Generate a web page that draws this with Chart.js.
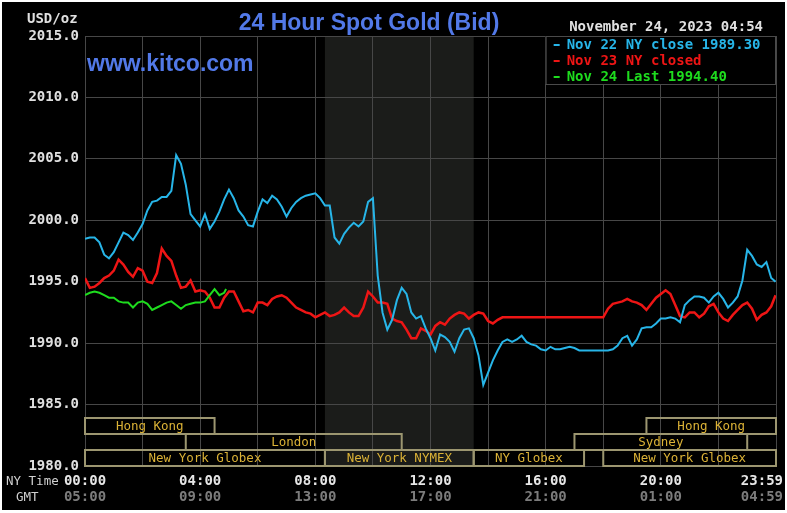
<!DOCTYPE html>
<html>
<head>
<meta charset="utf-8">
<script src="https://cdn.jsdelivr.net/npm/chart.js@4.4.0/dist/chart.umd.min.js"></script>
<style>
  html, body { margin: 0; padding: 0; background: #fff; }
  #wrap { width: 787px; height: 513px; }
</style>
</head>
<body>
<div id="wrap"><canvas id="gold" width="787" height="513"></canvas></div>
<script>
// minutes after NY midnight, 10 minute samples
const times = Array.from({ length: 145 }, (_, i) => Math.min(i * 10, 1439));

// Nov 22 (cyan)
const nov22 = [
  1998.5, 1998.6, 1998.6, 1998.2, 1997.2, 1996.9, 1997.4, 1998.2, 1999.0, 1998.8,
  1998.4, 1999.0, 1999.7, 2000.8, 2001.5, 2001.6, 2001.9, 2001.9, 2002.4, 2005.3,
  2004.6, 2002.9, 2000.5, 2000.0, 1999.5, 2000.5, 1999.3, 1999.9, 2000.7, 2001.7,
  2002.5, 2001.8, 2000.8, 2000.3, 1999.6, 1999.5, 2000.7, 2001.7, 2001.4, 2002.0,
  2001.7, 2001.1, 2000.3, 2001.0, 2001.5, 2001.8, 2002.0, 2002.1, 2002.2, 2001.8,
  2001.2, 2001.2, 1998.6, 1998.1, 1998.9, 1999.4, 1999.8, 1999.5, 1999.9, 2001.5,
  2001.8, 1995.5, 1992.5, 1991.1, 1991.9, 1993.5, 1994.5, 1994.0, 1992.5, 1992.0,
  1992.2, 1991.2, 1990.4, 1989.4, 1990.7, 1990.5, 1990.1, 1989.3, 1990.4, 1991.1,
  1991.2, 1990.4, 1989.0, 1986.6, 1987.6, 1988.6, 1989.4, 1990.1, 1990.3, 1990.1,
  1990.3, 1990.6, 1990.1, 1989.9, 1989.8, 1989.5, 1989.4, 1989.7, 1989.5, 1989.5,
  1989.6, 1989.7, 1989.6, 1989.4, 1989.4, 1989.4, 1989.4, 1989.4, 1989.4, 1989.4,
  1989.5, 1989.8, 1990.4, 1990.6, 1989.8, 1990.3, 1991.2, 1991.3, 1991.3, 1991.6,
  1992.0, 1992.0, 1992.1, 1992.0, 1991.7, 1993.1, 1993.5, 1993.8, 1993.8, 1993.7,
  1993.3, 1993.8, 1994.1, 1993.6, 1992.9, 1993.3, 1993.8, 1995.1, 1997.6, 1997.1,
  1996.4, 1996.2, 1996.6, 1995.3, 1995.0
];

// Nov 23 (red)
const nov23 = [
  1995.3, 1994.5, 1994.6, 1994.9, 1995.3, 1995.5, 1995.9, 1996.8, 1996.4, 1995.8,
  1995.4, 1996.1, 1995.9, 1995.0, 1994.9, 1995.7, 1997.7, 1997.1, 1996.7, 1995.5,
  1994.5, 1994.6, 1995.1, 1994.2, 1994.3, 1994.2, 1993.7, 1992.9, 1992.9, 1993.7,
  1994.2, 1994.2, 1993.4, 1992.6, 1992.7, 1992.5, 1993.3, 1993.3, 1993.1, 1993.6,
  1993.8, 1993.9, 1993.7, 1993.3, 1992.9, 1992.7, 1992.5, 1992.4, 1992.1, 1992.3,
  1992.5, 1992.2, 1992.3, 1992.5, 1992.9, 1992.5, 1992.2, 1992.2, 1992.9, 1994.2,
  1993.8, 1993.3, 1993.3, 1993.2, 1992.0, 1991.8, 1991.7, 1991.1, 1990.4, 1990.4,
  1991.2, 1991.0, 1990.7, 1991.4, 1991.7, 1991.5, 1992.0, 1992.3, 1992.5, 1992.4,
  1992.0, 1992.3, 1992.5, 1992.4, 1991.8, 1991.6, 1991.9, 1992.1, 1992.1, 1992.1,
  1992.1, 1992.1, 1992.1, 1992.1, 1992.1, 1992.1, 1992.1, 1992.1, 1992.1, 1992.1,
  1992.1, 1992.1, 1992.1, 1992.1, 1992.1, 1992.1, 1992.1, 1992.1, 1992.1, 1992.8,
  1993.2, 1993.3, 1993.4, 1993.6, 1993.4, 1993.3, 1993.1, 1992.7, 1993.2, 1993.7,
  1994.0, 1994.3, 1994.0, 1993.1, 1992.2, 1992.1, 1992.5, 1992.5, 1992.1, 1992.4,
  1993.0, 1993.2, 1992.5, 1992.0, 1991.8, 1992.3, 1992.7, 1993.1, 1993.3, 1992.8,
  1991.9, 1992.3, 1992.5, 1993.0, 1993.9
];

// Nov 24 (green), up to 04:54
const nov24Times = [0, 10, 20, 30, 40, 50, 60, 70, 80, 90, 100, 110, 120, 130, 140, 150,
  160, 170, 180, 190, 200, 210, 220, 230, 240, 250, 260, 270, 280, 290, 294];
const nov24 = [
  1993.9, 1994.1, 1994.2, 1994.1, 1993.9, 1993.7, 1993.7, 1993.4, 1993.3, 1993.3,
  1992.9, 1993.3, 1993.4, 1993.2, 1992.7, 1992.9, 1993.1, 1993.3, 1993.4, 1993.1,
  1992.8, 1993.1, 1993.2, 1993.3, 1993.3, 1993.4, 1993.9, 1994.4, 1993.9, 1994.1, 1994.4
];

const legendLabels = ["Nov 22 NY close 1989.30", "Nov 23 NY closed", "Nov 24 Last 1994.40"];
const seriesColors = ["#27b5e8", "#ee1515", "#1edc1e"];

const xTickTimes = [0, 240, 480, 720, 960, 1200, 1439];
const nyLabels = ["00:00", "04:00", "08:00", "12:00", "16:00", "20:00", "23:59"];
const gmtLabels = ["05:00", "09:00", "13:00", "17:00", "21:00", "01:00", "04:59"];

// trading sessions (minutes), row 0 = top row
const sessionNames = ["Hong Kong", "London", "New York Globex", "New York NYMEX", "NY Globex", "Sydney", "New York Globex", "Hong Kong"];
const sessionStart = [0, 210, 0, 500, 810, 1020, 1080, 1170];
const sessionEnd = [270, 660, 500, 810, 1040, 1380, 1440, 1440];
const sessionRow = [0, 1, 2, 2, 2, 1, 2, 0];

const nymexOpen = 500, nymexClose = 810;

const mono = "'DejaVu Sans Mono', monospace";

const toPoints = (xs, ys) => xs.map((t, i) => ({ x: t, y: ys[i] }));

const kitcoDecor = {
  id: "kitcoDecor",
  beforeDraw(chart) {
    const { ctx, chartArea, scales } = chart;
    ctx.save();
    ctx.fillStyle = "#ffffff";
    ctx.fillRect(0, 0, chart.width, chart.height);
    ctx.fillStyle = "#000000";
    ctx.fillRect(2, 2, chart.width - 4, chart.height - 5);
    // NYMEX hours shading
    const x0 = scales.x.getPixelForValue(nymexOpen);
    const x1 = scales.x.getPixelForValue(nymexClose);
    ctx.fillStyle = "#1b1c1a";
    ctx.fillRect(x0, chartArea.top, x1 - x0, chartArea.bottom - chartArea.top);
    ctx.restore();
  },
  afterDraw(chart) {
    const { ctx, chartArea, scales } = chart;
    const xs = scales.x;
    ctx.save();

    // session bars
    const rowH = 16;
    ctx.lineWidth = 2;
    ctx.font = "12.5px " + mono;
    ctx.textAlign = "center";
    ctx.textBaseline = "middle";
    sessionNames.forEach((name, i) => {
      const a = xs.getPixelForValue(sessionStart[i]);
      const b = xs.getPixelForValue(sessionEnd[i]);
      const top = chartArea.bottom - (3 - sessionRow[i]) * rowH;
      ctx.strokeStyle = "#9c9670";
      ctx.strokeRect(a, top, b - a, rowH);
      ctx.fillStyle = "#dbb236";
      ctx.fillText(name, (a + b) / 2, top + rowH / 2 + 1);
    });

    // legend box
    const lx = xs.getPixelForValue(960);
    ctx.fillStyle = "#000";
    ctx.fillRect(lx, chartArea.top, chartArea.right - lx, 48);
    ctx.strokeStyle = "#4a4a4a";
    ctx.lineWidth = 1;
    ctx.strokeRect(lx + 0.5, chartArea.top + 0.5, chartArea.right - lx - 1, 48);
    ctx.font = "bold 14px " + mono;
    ctx.textAlign = "left";
    legendLabels.forEach((txt, i) => {
      const y = chartArea.top + 9 + i * 16;
      ctx.fillStyle = seriesColors[i];
      ctx.fillRect(lx + 8, y - 1, 6, 2);
      ctx.fillText(txt, lx + 21, y);
    });

    // header texts
    ctx.fillStyle = "#e0e0e0";
    ctx.font = "bold 14px " + mono;
    ctx.textAlign = "left";
    ctx.fillText("USD/oz", 27, 19);
    ctx.textAlign = "right";
    ctx.fillText("November 24, 2023 04:54", 763, 27);

    ctx.fillStyle = "#5279e8";
    ctx.font = "bold 23px 'Liberation Sans', Arial, sans-serif";
    ctx.textAlign = "center";
    ctx.textBaseline = "alphabetic";
    ctx.fillText("24 Hour Spot Gold (Bid)", 369, 30);
    ctx.textAlign = "left";
    ctx.fillText("www.kitco.com", 87, 71);

    // time axis, two rows
    ctx.textBaseline = "middle";
    ctx.font = "12.5px " + mono;
    ctx.fillStyle = "#d0d0d0";
    ctx.fillText("NY Time", 6, 482);
    ctx.fillText("GMT", 16, 498);
    ctx.font = "bold 14px " + mono;
    ctx.textAlign = "center";
    xTickTimes.forEach((t, i) => {
      const w = ctx.measureText(nyLabels[i]).width;
      const px = Math.min(xs.getPixelForValue(t), chart.width - 4 - w / 2);
      ctx.fillStyle = "#e6e6e6";
      ctx.fillText(nyLabels[i], px, 481);
      ctx.fillStyle = "#7c7c7c";
      ctx.fillText(gmtLabels[i], px, 497);
    });
    ctx.restore();
  }
};

const ctx = document.getElementById("gold").getContext("2d");

new Chart(ctx, {
  type: "line",
  data: {
    datasets: [
      { label: legendLabels[0], data: toPoints(times, nov22), borderColor: seriesColors[0], borderWidth: 2, order: 1 },
      { label: legendLabels[1], data: toPoints(times, nov23), borderColor: seriesColors[1], borderWidth: 2.5, order: 2 },
      { label: legendLabels[2], data: toPoints(nov24Times, nov24), borderColor: seriesColors[2], borderWidth: 2, order: 0 },
    ],
  },
  options: {
    responsive: false,
    animation: false,
    layout: { padding: { top: 36, right: 11, left: 0, bottom: 0 } },
    elements: { point: { radius: 0 }, line: { tension: 0 } },
    plugins: { legend: { display: false }, tooltip: { enabled: false } },
    scales: {
      x: {
        type: "linear",
        min: 0,
        max: 1440,
        ticks: { display: false, stepSize: 120 },
        grid: { color: "#474747", drawTicks: false },
        border: { color: "#474747" },
        afterFit: (s) => { s.height = 47; },
      },
      y: {
        min: 1980,
        max: 2015,
        ticks: {
          stepSize: 5,
          padding: 6,
          color: "#e0e0e0",
          font: { family: "DejaVu Sans Mono", weight: "bold", size: 14 },
          callback: (v) => v.toFixed(1),
        },
        grid: { color: "#474747", drawTicks: false },
        border: { color: "#474747" },
        afterFit: (s) => { s.width = 85; },
      },
    },
  },
  plugins: [kitcoDecor],
});
</script>
</body>
</html>
